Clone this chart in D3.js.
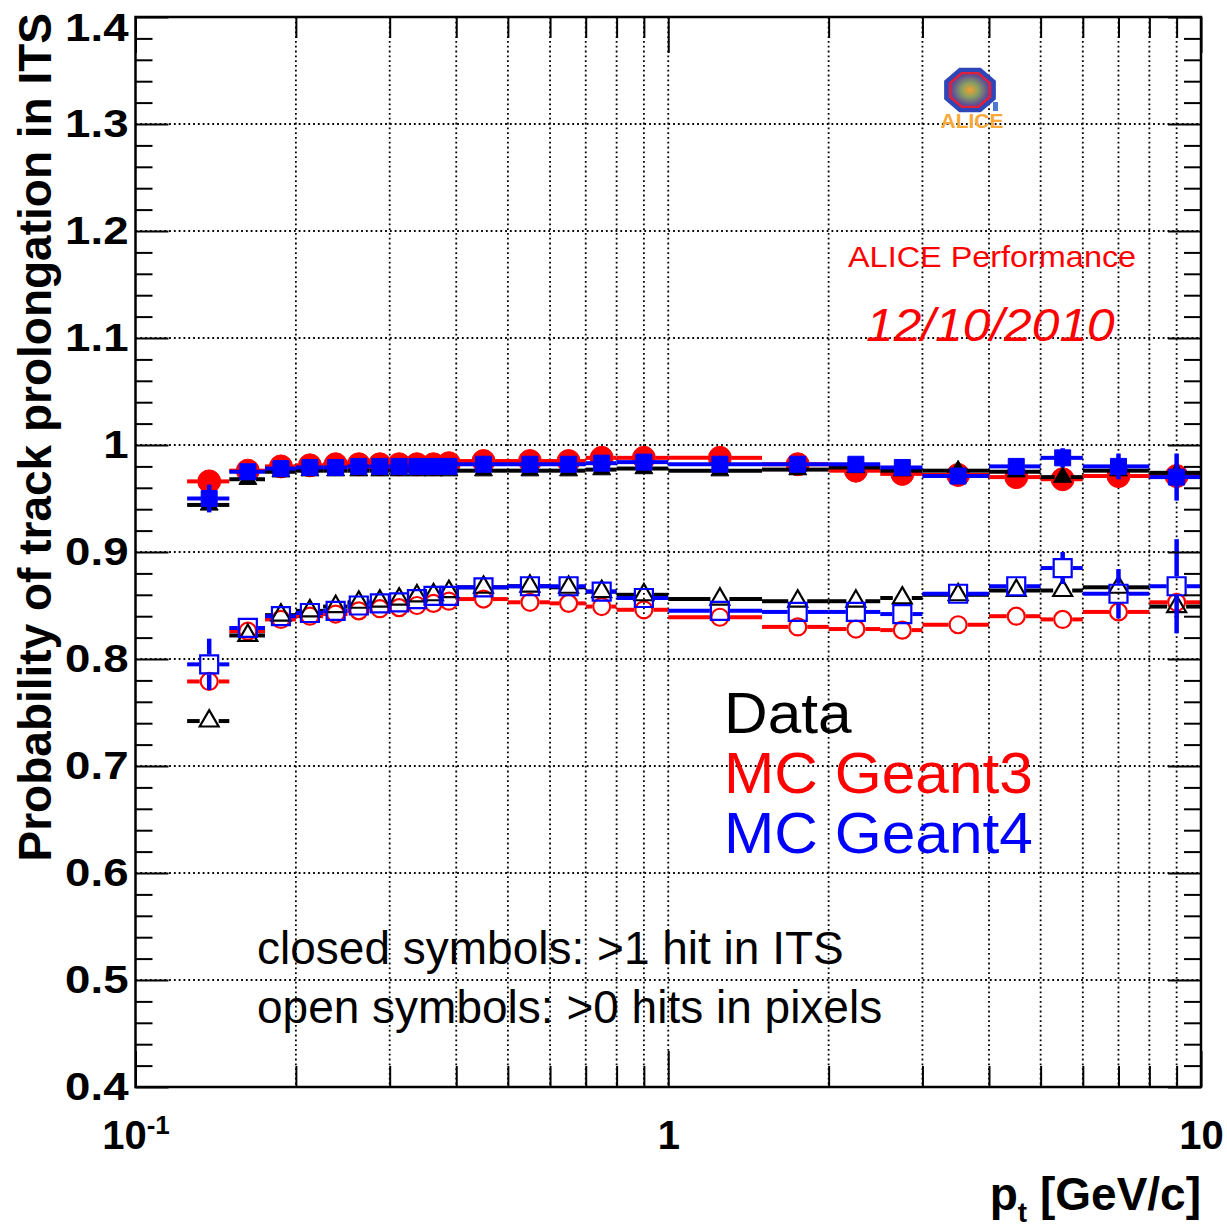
<!DOCTYPE html>
<html>
<head>
<meta charset="utf-8">
<script src="https://cdn.jsdelivr.net/npm/d3@7"></script>
<style>
body{margin:0;background:#fff;}
svg text{font-family:"Liberation Sans",Arial,Helvetica,sans-serif;}
</style>
</head>
<body>
<div id="chart"></div>
<script>
// pt bin edges [GeV/c]
var binEdges = [0.125,0.15,0.175,0.2,0.225,0.25,0.275,0.3,0.325,0.35,0.375,0.4,0.5,0.6,0.7,0.8,1.0,1.5,2,2.5,3,4,5,6,8,10];

// closed symbols: >1 hit in ITS
var dataClosed = [0.944,0.968,0.975,0.976,0.976,0.976,0.976,0.976,0.976,0.976,0.976,0.976,0.976,0.976,0.977,0.978,0.976,0.977,0.979,0.976,0.976,0.975,0.970,0.976,0.974];
var g3Closed   = [0.966,0.976,0.980,0.981,0.982,0.982,0.982,0.982,0.982,0.982,0.983,0.985,0.985,0.985,0.988,0.988,0.988,0.982,0.976,0.973,0.972,0.970,0.968,0.971,0.971];
var g4Closed   = [0.950,0.975,0.978,0.979,0.979,0.980,0.980,0.980,0.980,0.980,0.980,0.982,0.982,0.982,0.983,0.984,0.982,0.982,0.982,0.979,0.971,0.980,0.988,0.980,0.970];
var errDataClosed = [0.004,0.003,0.002,0.002,0.002,0.002,0.002,0.002,0.002,0.002,0.002,0.002,0.002,0.002,0.002,0.002,0.002,0.002,0.003,0.003,0.003,0.004,0.005,0.006,0.008];
var errG3Closed   = [0.004,0.003,0.002,0.002,0.002,0.002,0.002,0.002,0.002,0.002,0.002,0.002,0.002,0.002,0.002,0.002,0.002,0.002,0.003,0.003,0.003,0.004,0.006,0.006,0.010];
var errG4Closed   = [0.013,0.004,0.002,0.002,0.002,0.002,0.002,0.002,0.002,0.002,0.002,0.002,0.002,0.002,0.002,0.002,0.002,0.003,0.003,0.004,0.005,0.006,0.009,0.012,0.022];

// open symbols: >0 hits in pixels
var dataOpen = [0.742,0.822,0.841,0.845,0.849,0.853,0.854,0.856,0.859,0.860,0.863,0.867,0.868,0.867,0.863,0.860,0.856,0.854,0.854,0.857,0.860,0.864,0.864,0.867,0.849];
var g3Open   = [0.779,0.826,0.837,0.840,0.842,0.845,0.847,0.848,0.850,0.852,0.854,0.856,0.853,0.852,0.849,0.846,0.839,0.830,0.828,0.827,0.832,0.840,0.837,0.844,0.853];
var g4Open   = [0.795,0.829,0.840,0.843,0.845,0.850,0.852,0.853,0.856,0.859,0.859,0.867,0.868,0.868,0.863,0.857,0.845,0.844,0.844,0.842,0.861,0.868,0.885,0.861,0.868];
var errDataOpen = [0.004,0.003,0.002,0.002,0.002,0.002,0.002,0.002,0.002,0.002,0.002,0.002,0.002,0.002,0.002,0.002,0.002,0.003,0.003,0.003,0.004,0.005,0.006,0.008,0.010];
var errG3Open   = [0.008,0.004,0.002,0.002,0.002,0.002,0.002,0.002,0.002,0.002,0.002,0.002,0.002,0.002,0.002,0.002,0.002,0.003,0.003,0.003,0.004,0.005,0.006,0.007,0.009];
var errG4Open   = [0.024,0.006,0.003,0.002,0.002,0.002,0.002,0.002,0.002,0.002,0.002,0.002,0.002,0.002,0.002,0.002,0.003,0.003,0.004,0.004,0.006,0.009,0.015,0.023,0.044];

// axis ticks and labels
var yTicks = [0.4,0.5,0.6,0.7,0.8,0.9,1.0,1.1,1.2,1.3,1.4];
var xMajor = [0.1,1,10];
var xMinor = [0.2,0.3,0.4,0.5,0.6,0.7,0.8,0.9,2,3,4,5,6,7,8,9];
var legendLabels = ["Data","MC Geant3","MC Geant4"];
var noteLabels = ["closed symbols: >1 hit in ITS","open symbols: >0 hits in pixels"];

var W = 1227, H = 1229;
var fr = {left:135.5, right:1201, top:17, bottom:1087};
var RED = "#ff0000", BLUE = "#0000ff", BLACK = "#000000";

var svg = d3.select("#chart").append("svg")
    .attr("width", W)
    .attr("height", H);

var x = d3.scaleLog().domain([0.1,10]).range([fr.left, fr.right]);
var y = d3.scaleLinear().domain([0.4,1.4]).range([fr.bottom, fr.top]);

// stretch a text horizontally (the original fonts run wide)
function widen(sel, k){
    sel.each(function(){
        var w = this.getComputedTextLength();
        d3.select(this).attr("textLength", w*k).attr("lengthAdjust", "spacingAndGlyphs");
    });
}

//------- dotted grid ----------
var grid = svg.append("g")
    .attr("stroke", BLACK)
    .attr("stroke-width", 1.8)
    .attr("stroke-dasharray", "1.8,3");
grid.selectAll("line.gx")
    .data(xMinor.concat([1]))
    .enter().append("line")
    .attr("x1", function(d){ return x(d); })
    .attr("x2", function(d){ return x(d); })
    .attr("y1", fr.top)
    .attr("y2", fr.bottom);
grid.selectAll("line.gy")
    .data(yTicks.slice(1, -1))
    .enter().append("line")
    .attr("x1", fr.left)
    .attr("x2", fr.right)
    .attr("y1", function(d){ return y(d); })
    .attr("y2", function(d){ return y(d); });

//------- data points -----------
var series = [
    {vals:g3Closed, err:errG3Closed, color:RED, shape:d3.symbolCircle, size:Math.PI*11.5*11.5, filled:true, gap:11.5},
    {vals:dataClosed, err:errDataClosed, color:BLACK, shape:d3.symbolTriangle, size:140, filled:true, gap:8},
    {vals:g4Closed, err:errG4Closed, color:BLUE, shape:d3.symbolSquare, size:16*16, filled:true, gap:8},
    {vals:g3Open, err:errG3Open, color:RED, shape:d3.symbolCircle, size:Math.PI*8.5*8.5, filled:false, gap:9.5},
    {vals:dataOpen, err:errDataOpen, color:BLACK, shape:d3.symbolTriangle, size:155, filled:false, gap:9.5},
    {vals:g4Open, err:errG4Open, color:BLUE, shape:d3.symbolSquare, size:18*18, filled:false, gap:10}
];

var plot = svg.append("g").attr("class", "plot");
series.forEach(function(s){
    var pts = s.vals.map(function(v, i){
        var lo = binEdges[i], hi = binEdges[i+1];
        return {v:v, e:s.err[i], lo:lo, hi:hi, c:(lo+hi)/2};
    });
    var g = plot.append("g")
        .attr("stroke", s.color)
        .attr("stroke-width", 4);
    // horizontal bars (bin width), gapped around the marker
    g.selectAll("line.hl").data(pts).enter().append("line")
        .attr("x1", function(d){ return x(d.lo); })
        .attr("x2", function(d){ return x(d.c) - s.gap; })
        .attr("y1", function(d){ return y(d.v); })
        .attr("y2", function(d){ return y(d.v); });
    g.selectAll("line.hr").data(pts).enter().append("line")
        .attr("x1", function(d){ return x(d.c) + s.gap; })
        .attr("x2", function(d){ return x(d.hi); })
        .attr("y1", function(d){ return y(d.v); })
        .attr("y2", function(d){ return y(d.v); });
    // vertical error bars
    var vb = pts.filter(function(d){ return y(d.v) - y(d.v + d.e) > s.gap; });
    g.selectAll("line.vu").data(vb).enter().append("line")
        .attr("stroke-width", 4.5)
        .attr("x1", function(d){ return x(d.c); })
        .attr("x2", function(d){ return x(d.c); })
        .attr("y1", function(d){ return y(d.v + d.e); })
        .attr("y2", function(d){ return y(d.v) - s.gap; });
    g.selectAll("line.vd").data(vb).enter().append("line")
        .attr("stroke-width", 4.5)
        .attr("x1", function(d){ return x(d.c); })
        .attr("x2", function(d){ return x(d.c); })
        .attr("y1", function(d){ return y(d.v) + s.gap; })
        .attr("y2", function(d){ return y(d.v - d.e); });
    // markers
    g.selectAll("path.m").data(pts).enter().append("path")
        .attr("d", d3.symbol().type(s.shape).size(s.size))
        .attr("transform", function(d){ return "translate(" + x(d.c) + "," + y(d.v) + ")"; })
        .attr("fill", s.filled ? s.color : "none")
        .attr("stroke-width", s.filled ? 1 : 2.2);
});

//------- axes -----------
function styleAxis(sel, fs){
    sel.select(".domain").remove();
    sel.selectAll(".tick line").attr("stroke", BLACK).attr("stroke-width", 2);
    sel.selectAll(".tick text")
        .attr("fill", BLACK)
        .style("font-family", '"Liberation Sans",Arial,Helvetica,sans-serif')
        .style("font-weight", "bold")
        .style("font-size", fs + "px");
}
var yMinor = d3.range(40, 141, 2).map(function(d){ return d/100; })
    .filter(function(d){ return Math.abs(d*10 - Math.round(d*10)) > 1e-6; });

var yAxisG = svg.append("g")
    .attr("transform", "translate(" + fr.left + ",0)")
    .call(d3.axisLeft(y).tickValues(yTicks).tickSize(-33).tickPadding(7)
        .tickFormat(function(d){ return d === 1 ? "1" : d3.format(".1f")(d); }))
    .call(styleAxis, 38);
yAxisG.selectAll(".tick text").call(widen, 1.2);
// top label kept inside the canvas
yAxisG.selectAll(".tick text")
    .filter(function(d){ return d === 1.4; })
    .attr("dy", "0.62em");
svg.append("g")
    .attr("transform", "translate(" + fr.left + ",0)")
    .call(d3.axisLeft(y).tickValues(yMinor).tickSize(-17).tickFormat(""))
    .call(styleAxis, 10);
svg.append("g")
    .attr("transform", "translate(" + fr.right + ",0)")
    .call(d3.axisRight(y).tickValues(yTicks).tickSize(-33).tickFormat(""))
    .call(styleAxis, 10);
svg.append("g")
    .attr("transform", "translate(" + fr.right + ",0)")
    .call(d3.axisRight(y).tickValues(yMinor).tickSize(-17).tickFormat(""))
    .call(styleAxis, 10);

var xAxisG = svg.append("g")
    .attr("transform", "translate(0," + fr.bottom + ")")
    .call(d3.axisBottom(x).tickValues(xMajor).tickSize(-36).tickPadding(34)
        .tickFormat(function(d){ return d < 1 ? "10" : d3.format("d")(d); }))
    .call(styleAxis, 40);
xAxisG.selectAll(".tick text")
    .filter(function(d){ return d < 1; })
    .append("tspan")
    .attr("dy", "-0.6em")
    .style("font-size", "26px")
    .text("-1");
svg.append("g")
    .attr("transform", "translate(0," + fr.bottom + ")")
    .call(d3.axisBottom(x).tickValues(xMinor).tickSize(-21).tickFormat(""))
    .call(styleAxis, 10);
svg.append("g")
    .attr("transform", "translate(0," + fr.top + ")")
    .call(d3.axisTop(x).tickValues(xMajor).tickSize(-36).tickFormat(""))
    .call(styleAxis, 10);
svg.append("g")
    .attr("transform", "translate(0," + fr.top + ")")
    .call(d3.axisTop(x).tickValues(xMinor).tickSize(-21).tickFormat(""))
    .call(styleAxis, 10);

// frame
svg.append("rect")
    .attr("x", fr.left)
    .attr("y", fr.top)
    .attr("width", fr.right - fr.left)
    .attr("height", fr.bottom - fr.top)
    .attr("fill", "none")
    .attr("stroke", BLACK)
    .attr("stroke-width", 2.5);

//------- titles -----------
var xt = svg.append("text")
    .attr("x", fr.right)
    .attr("y", 1210)
    .attr("text-anchor", "end")
    .style("font-weight", "bold")
    .style("font-size", "46px");
xt.append("tspan").text("p");
xt.append("tspan").attr("dy", 12).style("font-size", "28px").text("t");
xt.append("tspan").attr("dy", -12).text(" [GeV/c]");

svg.append("text")
    .attr("transform", "rotate(-90)")
    .attr("x", -13)
    .attr("y", 51)
    .attr("text-anchor", "end")
    .style("font-weight", "bold")
    .style("font-size", "46px")
    .text("Probability of track prolongation in ITS");

//------- legend / notes -----------
var legColors = [BLACK, RED, BLUE];
svg.selectAll("text.leg")
    .data(legendLabels)
    .enter().append("text")
    .attr("class", "leg")
    .attr("x", 724)
    .attr("y", function(d, i){ return 733 + i*60; })
    .attr("fill", function(d, i){ return legColors[i]; })
    .style("font-size", "57px")
    .text(function(d){ return d; })
    .call(widen, 1.06);

svg.selectAll("text.note")
    .data(noteLabels)
    .enter().append("text")
    .attr("class", "note")
    .attr("x", 257)
    .attr("y", function(d, i){ return 964 + i*59; })
    .attr("fill", BLACK)
    .style("font-size", "46px")
    .text(function(d){ return d; });

svg.append("text")
    .attr("x", 848)
    .attr("y", 267)
    .attr("fill", RED)
    .style("font-size", "30px")
    .text("ALICE Performance")
    .call(widen, 1.08);
svg.append("text")
    .attr("x", 866)
    .attr("y", 341)
    .attr("fill", RED)
    .style("font-size", "46px")
    .style("font-style", "italic")
    .text("12/10/2010")
    .call(widen, 1.08);

//------- ALICE logo -----------
var defs = svg.append("defs");
var rg = defs.append("radialGradient").attr("id", "logoGrad");
rg.append("stop").attr("offset", "0%").attr("stop-color", "#f5a030");
rg.append("stop").attr("offset", "45%").attr("stop-color", "#8aa060");
rg.append("stop").attr("offset", "100%").attr("stop-color", "#5a4a9a");

var logo = svg.append("g").attr("transform", "translate(970,90)");
function octagon(rx, ry){
    var pts = d3.range(8).map(function(i){
        var a = Math.PI/8 + i*Math.PI/4;
        return [rx*Math.cos(a), ry*Math.sin(a)];
    });
    return d3.line().curve(d3.curveLinearClosed)(pts);
}
logo.append("path").attr("d", octagon(28, 24)).attr("fill", "#2d47b8");
logo.append("path").attr("d", octagon(23, 19.5)).attr("fill", "#e0203a");
logo.append("path").attr("d", octagon(20, 17)).attr("fill", "url(#logoGrad)");
logo.append("rect").attr("x", 23).attr("y", 12).attr("width", 5).attr("height", 9).attr("fill", "#4a7ad0");
logo.append("text")
    .attr("x", 2)
    .attr("y", 38)
    .attr("text-anchor", "middle")
    .attr("fill", "#f8a838")
    .style("font-weight", "bold")
    .style("font-size", "21px")
    .text("ALICE");
</script>
</body>
</html>
